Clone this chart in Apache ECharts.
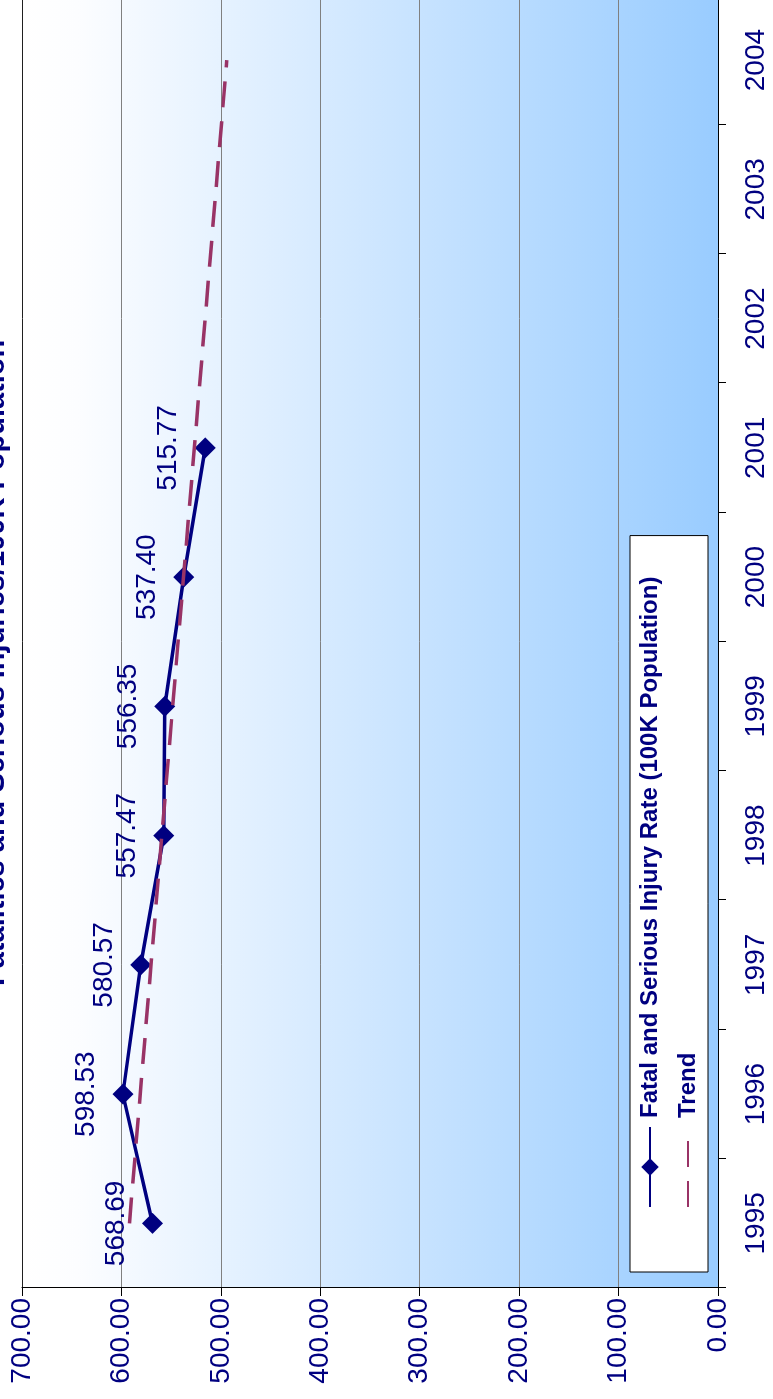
<!DOCTYPE html>
<html>
<head>
<meta charset="utf-8">
<title>Fatalities and Serious Injuries/100K Population</title>
<script src="https://cdn.jsdelivr.net/npm/echarts@6/dist/echarts.min.js"></script>
<style>
  html, body { margin: 0; padding: 0; background: #fff; }
  body { width: 773px; height: 1399px; overflow: hidden; position: relative; }
  /* the original chart is printed sideways, so the chart is drawn flat and turned -90deg */
  #chart {
    position: absolute;
    left: 0;
    top: 0;
    width: 1430px;
    height: 803px;
    transform-origin: 0 0;
    transform: translate(-30px, 1418px) rotate(-90deg);
  }
</style>
</head>
<body>
<div id="chart"></div>
<script>
const years = ["1995", "1996", "1997", "1998", "1999", "2000", "2001", "2002", "2003", "2004"];
// rate per 100K population, 1995 - 2001
const rateValues = [568.69, 598.53, 580.57, 557.47, 556.35, 537.40, 515.77];
// trend line end points
const trendYears = ["1995", "2004"];
const trendValues = [592, 494];

const rateName = "Fatal and Serious Injury Rate (100K Population)";
const font = "'Liberation Sans', Arial, sans-serif";
const navy = "#000080";

const chart = echarts.init(document.getElementById("chart"));
chart.setOption({
  animation: false,
  title: {
    text: "Fatalities and Serious Injuries/100K Population",
    left: 432,
    top: 11,
    padding: 0,
    textStyle: {
      color: navy,
      fontSize: 29,
      fontWeight: "bold",
      fontFamily: font
    }
  },
  grid: {
    left: 130,
    right: 7.5,
    top: 52,
    bottom: 55,
    show: true,
    borderWidth: 0,
    backgroundColor: new echarts.graphic.LinearGradient(0, 0, 0, 1, [
      { offset: 0, color: "#ffffff" },
      { offset: 0.08, color: "#fcfdff" },
      { offset: 1, color: "#99ccff" }
    ])
  },
  legend: {
    orient: "vertical",
    left: 146,
    top: 660,
    padding: [8, 41, 8, 64],
    itemGap: 14,
    itemWidth: 80,
    itemHeight: 22,
    backgroundColor: "#ffffff",
    borderColor: "#000000",
    borderWidth: 1,
    selectedMode: false,
    textStyle: {
      color: navy,
      fontSize: 24,
      fontWeight: "bold",
      fontFamily: font,
      padding: [0, 0, 0, 4]
    },
    data: [
      { name: rateName },
      { name: "Trend", itemStyle: { opacity: 0 } }
    ]
  },
  xAxis: {
    type: "category",
    data: years,
    boundaryGap: true,
    axisLine: { lineStyle: { color: "#000", width: 1 } },
    axisTick: { show: true, length: 8, lineStyle: { color: "#000" } },
    axisLabel: {
      interval: 0,
      color: navy,
      fontSize: 28,
      fontFamily: font,
      margin: 24
    }
  },
  yAxis: {
    type: "value",
    min: 0,
    max: 700,
    interval: 100,
    axisLine: { show: true, lineStyle: { color: "#000", width: 1 } },
    axisTick: { show: true, length: 8, lineStyle: { color: "#000" } },
    axisLabel: {
      color: navy,
      fontSize: 28,
      fontFamily: font,
      margin: 10,
      formatter: function (v) {
        return v.toFixed(2);
      }
    },
    // last (700) line is the dark top edge of the plot
    splitLine: {
      lineStyle: {
        color: ["#808080", "#808080", "#808080", "#808080", "#808080", "#808080", "#808080", "#202020"],
        width: 1
      }
    }
  },
  series: [
    {
      name: rateName,
      type: "line",
      data: rateValues,
      symbol: "diamond",
      symbolSize: 21,
      lineStyle: { color: navy, width: 3.5 },
      itemStyle: { color: navy },
      label: {
        show: true,
        position: "top",
        distance: 12,
        color: navy,
        fontSize: 28,
        fontFamily: font,
        formatter: function (p) {
          return p.value.toFixed(2);
        }
      },
      z: 2
    },
    {
      name: "Trend",
      type: "line",
      data: trendYears.map(function (y, i) {
        return [y, trendValues[i]];
      }),
      symbol: "none",
      lineStyle: { color: "#993366", width: 3.5, type: [26, 14] },
      itemStyle: { color: "#993366" },
      z: 3
    }
  ]
});
</script>
</body>
</html>
